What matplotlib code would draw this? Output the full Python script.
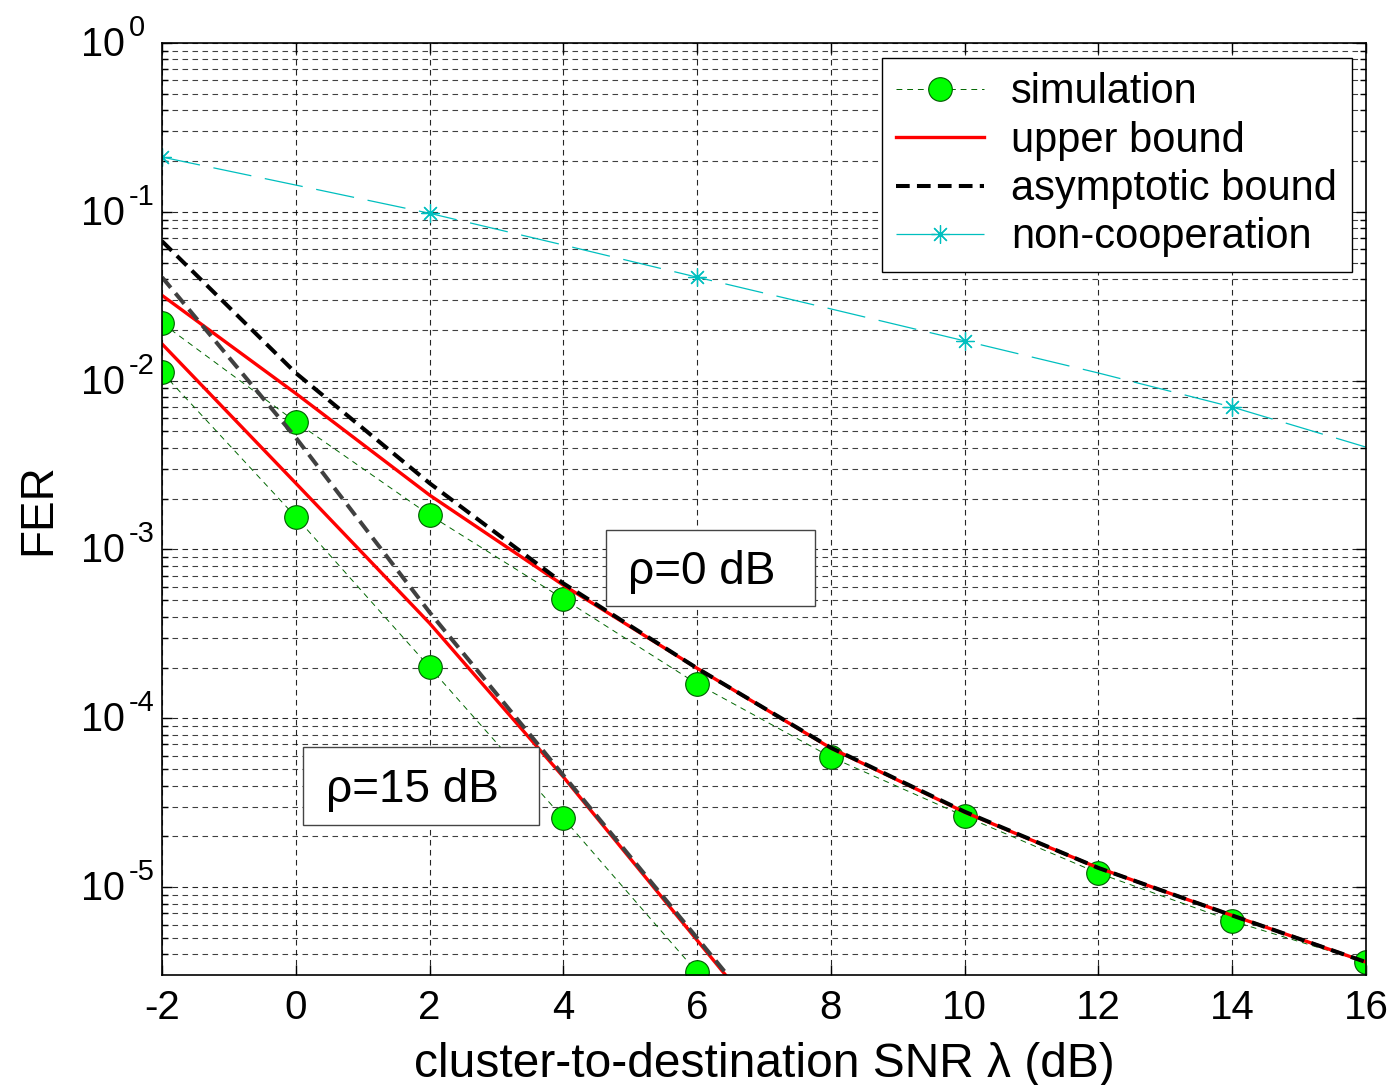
import matplotlib
matplotlib.use("Agg")
import matplotlib.pyplot as plt
import matplotlib.transforms as mtransforms
from matplotlib.patches import Rectangle
import numpy as np
from matplotlib.ticker import LogLocator, NullFormatter, FixedLocator

plt.rcParams['font.family'] = ['Liberation Sans', 'DejaVu Sans']

# cluster-to-destination SNR (dB)
snr = [-2, 0, 2, 4, 6, 8, 10, 12, 14, 16]
snr15 = [-2, 0, 2, 4, 6, 8]
snr_sim15 = [-2, 0, 2, 4, 6]

# rho = 0 dB
sim_rho0 = [2.19e-2, 5.7e-3, 1.6e-3, 5.1e-4, 1.6e-4, 5.9e-5, 2.63e-5, 1.21e-5, 6.3e-6, 3.6e-6]
ub_rho0 = [3.2e-2, 8.4e-3, 2.1e-3, 6.15e-4, 1.98e-4, 6.66e-5, 2.78e-5, 1.3e-5, 6.8e-6, 3.6e-6]
asy_rho0 = [6.7e-2, 1.11e-2, 2.47e-3, 6.3e-4, 1.98e-4, 6.7e-5, 2.8e-5, 1.3e-5, 6.8e-6, 3.6e-6]

# rho = 15 dB
sim_rho15 = [1.12e-2, 1.56e-3, 2.01e-4, 2.56e-5, 3.13e-6]
ub_rho15 = [1.65e-2, 2.47e-3, 3.66e-4, 4.5e-5, 4.85e-6, 5.2e-7]
asy_rho15 = [4.1e-2, 4.6e-3, 4.25e-4, 4.6e-5, 5.0e-6, 5.4e-7]

# non-cooperation
noncoop = [0.211, 0.144, 0.098, 0.0636, 0.041, 0.0266, 0.0172, 0.0111, 6.98e-3, 4.04e-3]

decades = [0, -1, -2, -3, -4, -5]

fig = plt.figure(figsize=(13.93, 10.85), dpi=100)
ax = fig.add_axes([0.1163, 0.1014, 0.8643, 0.859])

sim_kw = dict(color=(0, 0.4, 0), ls=(0, (6, 5)), lw=0.7, marker='o', ms=17,
              mfc=(0, 1, 0), mec=(0, 0.35, 0), mew=0.8)
l1, = ax.semilogy(snr, sim_rho0, label='simulation', **sim_kw)
ax.semilogy(snr_sim15, sim_rho15, **sim_kw)
l2, = ax.semilogy(snr, ub_rho0, color='red', lw=2.4, label='upper bound')
ax.semilogy(snr15, ub_rho15, color='red', lw=2.4)
l3, = ax.semilogy(snr, asy_rho0, color='black', lw=2.9, ls=(0, (3.4, 1.8)),
                  label='asymptotic bound')
ax.semilogy(snr15, asy_rho15, color='#404040', lw=2.9, ls=(0, (3.4, 1.8)))
l4, = ax.semilogy(snr, noncoop, color=(0, 0.75, 0.75), lw=0.9, ls=(0, (31, 11)),
                  marker=(8, 2, 0), ms=13, mew=0.9, markevery=2, label='non-cooperation')

ax.set_xlim(-2, 16)
ax.set_ylim(10 ** -5.52, 1)
ax.set_xticks(range(-2, 17, 2))
ax.set_xticklabels([str(v) for v in range(-2, 17, 2)])
ax.yaxis.set_major_locator(FixedLocator([10.0 ** e for e in decades]))
ax.set_yticklabels([])
ax.yaxis.set_minor_locator(LogLocator(base=10, subs=np.arange(2, 10), numticks=20))
ax.yaxis.set_minor_formatter(NullFormatter())

# matlab-style 10^x labels
ytr = ax.get_yaxis_transform()
down = mtransforms.ScaledTranslation(0, -13 / 100, fig.dpi_scale_trans)
up = mtransforms.ScaledTranslation(0, 7 / 100, fig.dpi_scale_trans)
for e in decades:
    ax.text(-0.0307, 10.0 ** e, '10', fontsize=28.5, ha='right', va='baseline',
            transform=ytr + down, clip_on=False)
    ax.text(-0.0274, 10.0 ** e, str(e), fontsize=21, ha='left', va='baseline',
            transform=ytr + up, clip_on=False)

ax.tick_params(which='both', direction='in', top=True, right=True, labelsize=29, pad=10)
ax.tick_params(which='major', length=7, width=1)
ax.tick_params(which='minor', length=4, width=1)
ax.grid(True, which='major', color='black', ls=(0, (5, 4)), lw=0.8, alpha=0.85)
ax.grid(True, which='minor', axis='y', color='black', ls=(0, (5, 4)), lw=0.8, alpha=0.75)
for s in ax.spines.values():
    s.set_linewidth(1.2)

ax.set_xlabel('cluster-to-destination SNR λ (dB)', fontsize=34.5, labelpad=11)
ax.set_ylabel('FER', fontsize=33, va='center')
ax.yaxis.set_label_coords(-0.103, 0.5)

# rho annotation boxes
ax.add_patch(Rectangle((0.3688, 0.3959), 0.1736, 0.0815, transform=ax.transAxes,
                       fc='white', ec='#444444', lw=1, zorder=5))
ax.text(0.387, 0.4324, 'ρ=0 dB', fontsize=33, ha='left', va='center',
        transform=ax.transAxes, zorder=6)
ax.add_patch(Rectangle((0.1171, 0.1609), 0.196, 0.0837, transform=ax.transAxes,
                       fc='white', ec='#444444', lw=1, zorder=5))
ax.text(0.1362, 0.1985, 'ρ=15 dB', fontsize=33, ha='left', va='center',
        transform=ax.transAxes, zorder=6)

leg = ax.legend(handles=[l1, l2, l3, l4], loc='upper right', bbox_to_anchor=(0.988, 0.984),
                fontsize=30, fancybox=False, edgecolor='black', framealpha=1,
                handlelength=2.1, handletextpad=0.65, labelspacing=0.2, borderpad=0.35,
                borderaxespad=0)
leg.get_frame().set_linewidth(1)
leg.set_zorder(7)

fig.savefig('out.png', dpi=100)
